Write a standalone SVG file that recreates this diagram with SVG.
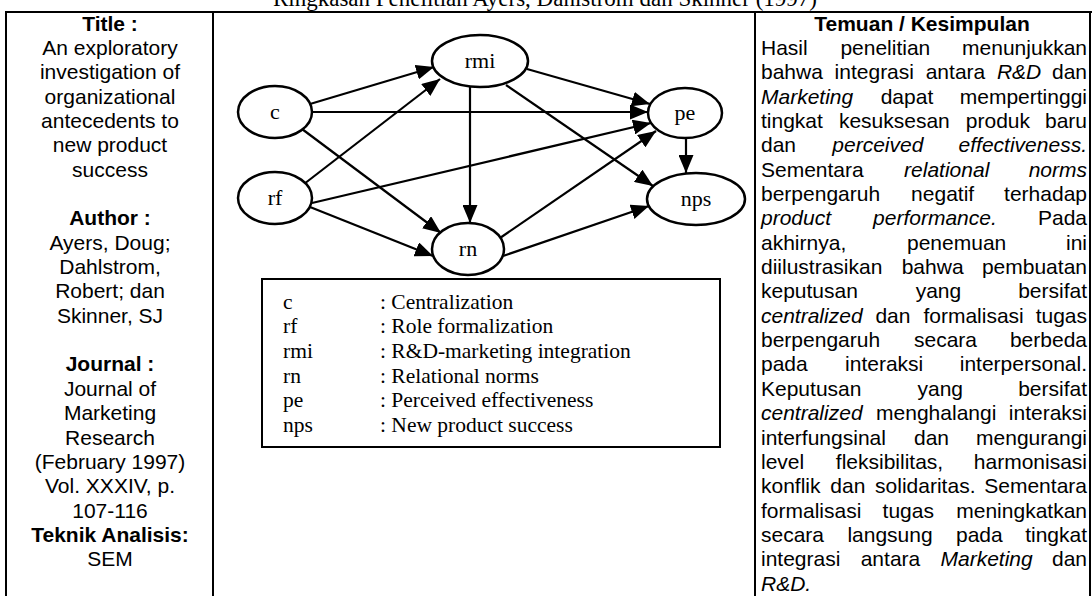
<svg xmlns="http://www.w3.org/2000/svg" width="1092" height="596" viewBox="0 0 1092 596">
  <style>
    .frame { stroke: #000; stroke-width: 2; fill: none; }
    .hd { font-family: "Liberation Serif", "Times New Roman", serif; font-size: 23px; fill: #000; }
    .t { font-family: "Liberation Sans", Arial, sans-serif; font-size: 21px; fill: #000; }
    .b { font-weight: bold; }
    .i { font-style: italic; }
    .c { text-anchor: middle; }
    .e { text-anchor: end; }
    .node ellipse { fill: #fff; stroke: #000; stroke-width: 2.5; }
    .node text { font-family: "Liberation Serif", "Times New Roman", serif; font-size: 22px; text-anchor: middle; fill: #000; }
    .edge { stroke: #000; stroke-width: 2.2; fill: none; marker-end: url(#ah); }
    .lg { font-family: "Liberation Serif", "Times New Roman", serif; font-size: 21.5px; fill: #000; }
  </style>
  <defs>
    <marker id="ah" markerUnits="userSpaceOnUse" markerWidth="19" markerHeight="15" refX="18" refY="7.5" orient="auto">
      <path d="M0,0 L18,7.5 L0,15 z" fill="#000"/>
    </marker>
  </defs>

  <rect width="1092" height="596" fill="#fff"/>

  <!-- heading, clipped by the top edge -->
  <text class="hd c" x="545" y="6">Ringkasan Penelitian Ayers, Dahlstrom dan Skinner (1997)</text>

  <!-- table frame -->
  <g id="table">
    <line class="frame" x1="5" y1="12" x2="1092" y2="12"/>
    <line class="frame" x1="6" y1="12" x2="6" y2="596"/>
    <line class="frame" x1="213" y1="12" x2="213" y2="596"/>
    <line class="frame" x1="755" y1="12" x2="755" y2="596"/>
    <line class="frame" x1="1090" y1="12" x2="1090" y2="596"/>
  </g>

  <!-- left column: bibliographic data -->
  <g id="info">
    <text class="t c b" x="110" y="30.5">Title :</text>
    <text class="t c" x="110" y="54.9">An exploratory</text>
    <text class="t c" x="110" y="79.2">investigation of</text>
    <text class="t c" x="110" y="103.6">organizational</text>
    <text class="t c" x="110" y="127.9">antecedents to</text>
    <text class="t c" x="110" y="152.3">new product</text>
    <text class="t c" x="110" y="176.6">success</text>
    <text class="t c b" x="110" y="225.3">Author :</text>
    <text class="t c" x="110" y="249.7">Ayers, Doug;</text>
    <text class="t c" x="110" y="274.0">Dahlstrom,</text>
    <text class="t c" x="110" y="298.4">Robert; dan</text>
    <text class="t c" x="110" y="322.7">Skinner, SJ</text>
    <text class="t c b" x="110" y="371.4">Journal :</text>
    <text class="t c" x="110" y="395.8">Journal of</text>
    <text class="t c" x="110" y="420.1">Marketing</text>
    <text class="t c" x="110" y="444.5">Research</text>
    <text class="t c" x="110" y="468.8">(February 1997)</text>
    <text class="t c" x="110" y="493.2">Vol. XXXIV, p.</text>
    <text class="t c" x="110" y="517.5">107-116</text>
    <text class="t c b" x="110" y="541.9">Teknik Analisis:</text>
    <text class="t c" x="110" y="566.2">SEM</text>
  </g>

  <!-- right column: findings, justified word by word -->
  <g id="findings">
    <text class="t c b" x="922" y="30.5">Temuan / Kesimpulan</text>
    <g transform="translate(1,54.9)">
      <text class="t" x="760" y="0">Hasil</text><text class="t" x="839.4" y="0">penelitian</text><text class="t e" x="1086" y="0">menunjukkan</text>
    </g>
    <g transform="translate(1,79.2)">
      <text class="t" x="760" y="0">bahwa</text><text class="t" x="833.6" y="0">integrasi</text><text class="t" x="924.7" y="0">antara</text><text class="t i" x="995.9" y="0">R&amp;D</text><text class="t e" x="1086" y="0">dan</text>
    </g>
    <g transform="translate(1,103.6)">
      <text class="t i" x="760" y="0">Marketing</text><text class="t" x="879.7" y="0">dapat</text><text class="t e" x="1086" y="0">mempertinggi</text>
    </g>
    <g transform="translate(1,127.9)">
      <text class="t" x="760" y="0">tingkat</text><text class="t" x="837.9" y="0">kesuksesan</text><text class="t" x="964.8" y="0">produk</text><text class="t e" x="1086" y="0">baru</text>
    </g>
    <g transform="translate(1,152.3)">
      <text class="t" x="760" y="0">dan</text><text class="t i" x="831.3" y="0">perceived</text><text class="t i e" x="1086" y="0">effectiveness.</text>
    </g>
    <g transform="translate(1,176.6)">
      <text class="t" x="760" y="0">Sementara</text><text class="t i" x="903.1" y="0">relational</text><text class="t i e" x="1086" y="0">norms</text>
    </g>
    <g transform="translate(1,201.0)">
      <text class="t" x="760" y="0">berpengaruh</text><text class="t" x="910.1" y="0">negatif</text><text class="t e" x="1086" y="0">terhadap</text>
    </g>
    <g transform="translate(1,225.3)">
      <text class="t i" x="760" y="0">product</text><text class="t i" x="872.1" y="0">performance.</text><text class="t e" x="1086" y="0">Pada</text>
    </g>
    <g transform="translate(1,249.7)">
      <text class="t" x="760" y="0">akhirnya,</text><text class="t" x="906.0" y="0">penemuan</text><text class="t e" x="1086" y="0">ini</text>
    </g>
    <g transform="translate(1,274.0)">
      <text class="t" x="760" y="0">diilustrasikan</text><text class="t" x="900.7" y="0">bahwa</text><text class="t e" x="1086" y="0">pembuatan</text>
    </g>
    <g transform="translate(1,298.4)">
      <text class="t" x="760" y="0">keputusan</text><text class="t" x="914.7" y="0">yang</text><text class="t e" x="1086" y="0">bersifat</text>
    </g>
    <g transform="translate(1,322.7)">
      <text class="t i" x="760" y="0">centralized</text><text class="t" x="874.4" y="0">dan</text><text class="t" x="922.4" y="0">formalisasi</text><text class="t e" x="1086" y="0">tugas</text>
    </g>
    <g transform="translate(1,347.1)">
      <text class="t" x="760" y="0">berpengaruh</text><text class="t" x="913.0" y="0">secara</text><text class="t e" x="1086" y="0">berbeda</text>
    </g>
    <g transform="translate(1,371.4)">
      <text class="t" x="760" y="0">pada</text><text class="t" x="844.1" y="0">interaksi</text><text class="t e" x="1086" y="0">interpersonal.</text>
    </g>
    <g transform="translate(1,395.8)">
      <text class="t" x="760" y="0">Keputusan</text><text class="t" x="916.5" y="0">yang</text><text class="t e" x="1086" y="0">bersifat</text>
    </g>
    <g transform="translate(1,420.1)">
      <text class="t i" x="760" y="0">centralized</text><text class="t" x="875.1" y="0">menghalangi</text><text class="t e" x="1086" y="0">interaksi</text>
    </g>
    <g transform="translate(1,444.5)">
      <text class="t" x="760" y="0">interfungsinal</text><text class="t" x="913.0" y="0">dan</text><text class="t e" x="1086" y="0">mengurangi</text>
    </g>
    <g transform="translate(1,468.8)">
      <text class="t" x="760" y="0">level</text><text class="t" x="834.8" y="0">fleksibilitas,</text><text class="t e" x="1086" y="0">harmonisasi</text>
    </g>
    <g transform="translate(1,493.2)">
      <text class="t" x="760" y="0">konflik</text><text class="t" x="829.3" y="0">dan</text><text class="t" x="874.1" y="0">solidaritas.</text><text class="t e" x="1086" y="0">Sementara</text>
    </g>
    <g transform="translate(1,517.5)">
      <text class="t" x="760" y="0">formalisasi</text><text class="t" x="881.6" y="0">tugas</text><text class="t e" x="1086" y="0">meningkatkan</text>
    </g>
    <g transform="translate(1,541.9)">
      <text class="t" x="760" y="0">secara</text><text class="t" x="846.4" y="0">langsung</text><text class="t" x="955.0" y="0">pada</text><text class="t e" x="1086" y="0">tingkat</text>
    </g>
    <g transform="translate(1,566.2)">
      <text class="t" x="760" y="0">integrasi</text><text class="t" x="859.7" y="0">antara</text><text class="t i" x="939.5" y="0">Marketing</text><text class="t e" x="1086" y="0">dan</text>
    </g>
    <text class="t i" x="761" y="590.6">R&amp;D.</text>
  </g>

  <!-- path model: connectors -->
  <g id="connectors">
    <line class="edge" x1="310" y1="104" x2="434" y2="67"/>
    <line class="edge" x1="312" y1="112" x2="648" y2="112"/>
    <line class="edge" x1="302" y1="129" x2="441" y2="233"/>
    <line class="edge" x1="304" y1="184" x2="440" y2="79"/>
    <line class="edge" x1="312" y1="203" x2="651" y2="123"/>
    <line class="edge" x1="310" y1="207" x2="433" y2="256"/>
    <line class="edge" x1="527" y1="69" x2="650" y2="104"/>
    <line class="edge" x1="470" y1="87" x2="470" y2="223"/>
    <line class="edge" x1="506" y1="85" x2="653" y2="186"/>
    <line class="edge" x1="500" y1="238" x2="656" y2="131"/>
    <line class="edge" x1="503" y1="256" x2="649" y2="206"/>
    <line class="edge" x1="686" y1="138" x2="686" y2="173"/>
  </g>

  <!-- path model: constructs -->
  <g id="node-c" class="node"><ellipse cx="275" cy="112" rx="37" ry="26"/><text x="275" y="119">c</text></g>
  <g id="node-rf" class="node"><ellipse cx="275" cy="198" rx="37" ry="26"/><text x="275" y="205">rf</text></g>
  <g id="node-rmi" class="node"><ellipse cx="480" cy="61" rx="48" ry="26"/><text x="480" y="68">rmi</text></g>
  <g id="node-rn" class="node"><ellipse cx="468" cy="249" rx="36" ry="26"/><text x="468" y="256">rn</text></g>
  <g id="node-pe" class="node"><ellipse cx="685" cy="113" rx="37" ry="25"/><text x="685" y="120">pe</text></g>
  <g id="node-nps" class="node"><ellipse cx="696" cy="199" rx="49" ry="26"/><text x="696" y="206">nps</text></g>

  <!-- legend of abbreviations -->
  <g id="legend">
    <rect x="262" y="279" width="458" height="168" fill="#fff" stroke="#000" stroke-width="2"/>
    <text class="lg" x="283" y="309">c</text><text class="lg" x="380" y="309">: Centralization</text>
    <text class="lg" x="283" y="333">rf</text><text class="lg" x="380" y="333">: Role formalization</text>
    <text class="lg" x="283" y="358">rmi</text><text class="lg" x="380" y="358">: R&amp;D-marketing integration</text>
    <text class="lg" x="283" y="383">rn</text><text class="lg" x="380" y="383">: Relational norms</text>
    <text class="lg" x="283" y="407">pe</text><text class="lg" x="380" y="407">: Perceived effectiveness</text>
    <text class="lg" x="283" y="432">nps</text><text class="lg" x="380" y="432">: New product success</text>
  </g>
</svg>
